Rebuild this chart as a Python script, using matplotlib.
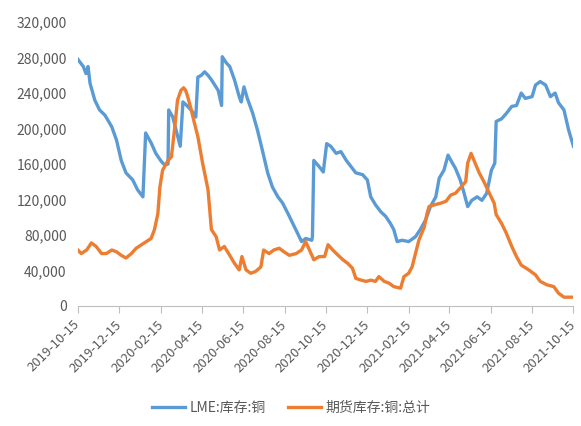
import matplotlib
matplotlib.use("Agg")
import matplotlib.pyplot as plt
import matplotlib.dates as mdates
import matplotlib.ticker as mticker
import pandas as pd

plt.rcParams['font.family'] = ['Noto Sans CJK SC', 'DejaVu Sans']

# LME copper stocks
lme_dates = [
    "2019-10-15", "2019-10-23", "2019-10-27", "2019-10-30", "2019-11-02", "2019-11-09",
    "2019-11-16", "2019-11-24", "2019-12-04", "2019-12-11", "2019-12-18", "2019-12-25",
    "2020-01-04", "2020-01-11", "2020-01-19", "2020-01-23", "2020-01-31", "2020-02-07",
    "2020-02-15", "2020-02-20", "2020-02-25", "2020-02-26", "2020-03-03", "2020-03-09",
    "2020-03-14", "2020-03-18", "2020-03-25", "2020-04-01", "2020-04-06", "2020-04-09",
    "2020-04-14", "2020-04-19", "2020-04-24", "2020-04-29", "2020-05-04", "2020-05-09",
    "2020-05-14", "2020-05-15", "2020-05-21", "2020-05-26", "2020-06-02", "2020-06-09",
    "2020-06-12", "2020-06-16", "2020-06-21", "2020-06-29", "2020-07-06", "2020-07-13",
    "2020-07-21", "2020-07-28", "2020-08-05", "2020-08-12", "2020-08-20", "2020-08-27",
    "2020-09-03", "2020-09-09", "2020-09-15", "2020-09-24", "2020-09-25", "2020-09-27",
    "2020-10-05", "2020-10-11", "2020-10-16", "2020-10-22", "2020-10-30", "2020-11-06",
    "2020-11-14", "2020-11-21", "2020-11-28", "2020-12-08", "2020-12-15", "2020-12-20",
    "2020-12-27", "2021-01-04", "2021-01-11", "2021-01-18", "2021-01-23", "2021-01-28",
    "2021-02-04", "2021-02-14", "2021-02-24", "2021-03-03", "2021-03-11", "2021-03-18",
    "2021-03-26", "2021-03-31", "2021-04-07", "2021-04-13", "2021-04-18", "2021-04-24",
    "2021-05-01", "2021-05-06", "2021-05-12", "2021-05-18", "2021-05-26", "2021-06-02",
    "2021-06-09", "2021-06-16", "2021-06-21", "2021-06-23", "2021-07-01", "2021-07-08",
    "2021-07-16", "2021-07-23", "2021-07-30", "2021-08-05", "2021-08-15", "2021-08-20",
    "2021-08-27", "2021-09-04", "2021-09-11", "2021-09-18", "2021-09-23", "2021-10-01",
    "2021-10-08", "2021-10-15",
]
lme_values = [
    278000, 270000, 262000, 270000, 251000, 232000,
    221000, 215000, 202000, 187000, 164000, 150000,
    142000, 131000, 123000, 195000, 184000, 172000,
    163000, 159000, 160000, 221000, 213000, 195000,
    180000, 230000, 225000, 219000, 213000, 258000,
    260000, 264000, 260000, 255000, 249000, 243000,
    226000, 281000, 274000, 270000, 255000, 236000,
    230000, 247000, 234000, 217000, 198000, 176000,
    150000, 134000, 123000, 116000, 104000, 93000,
    82000, 72500, 76000, 74000, 78000, 164000,
    157000, 151000, 183000, 180000, 172000, 174000,
    164000, 157000, 150000, 148000, 142000, 123000,
    114000, 106000, 101000, 93000, 86000, 72500,
    74000, 72500, 78000, 86000, 97000, 112000,
    123000, 144000, 153000, 170000, 163000, 155000,
    142000, 129000, 112000, 119000, 123000, 119000,
    127000, 153000, 161000, 208000, 211000, 217000,
    225000, 226000, 240000, 234000, 236000, 249000,
    253000, 249000, 236000, 240000, 229000, 221000,
    198000, 180000,
]

# Futures (SHFE) copper stocks, total
fut_dates = [
    "2019-10-15", "2019-10-20", "2019-10-28", "2019-11-04", "2019-11-11", "2019-11-19",
    "2019-11-26", "2019-12-04", "2019-12-11", "2019-12-18", "2019-12-25", "2020-01-02",
    "2020-01-09", "2020-01-17", "2020-01-24", "2020-01-31", "2020-02-05", "2020-02-10",
    "2020-02-13", "2020-02-17", "2020-02-25", "2020-03-01", "2020-03-06", "2020-03-10",
    "2020-03-15", "2020-03-19", "2020-03-22", "2020-03-25", "2020-03-29", "2020-04-04",
    "2020-04-09", "2020-04-16", "2020-04-24", "2020-04-29", "2020-05-06", "2020-05-11",
    "2020-05-18", "2020-05-26", "2020-06-02", "2020-06-09", "2020-06-13", "2020-06-19",
    "2020-06-26", "2020-07-03", "2020-07-11", "2020-07-15", "2020-07-23", "2020-07-30",
    "2020-08-07", "2020-08-14", "2020-08-22", "2020-09-01", "2020-09-09", "2020-09-15",
    "2020-09-23", "2020-09-27", "2020-10-05", "2020-10-13", "2020-10-18", "2020-10-25",
    "2020-11-02", "2020-11-09", "2020-11-16", "2020-11-23", "2020-11-28", "2020-12-06",
    "2020-12-13", "2020-12-20", "2020-12-27", "2021-01-01", "2021-01-09", "2021-01-16",
    "2021-01-23", "2021-02-02", "2021-02-07", "2021-02-14", "2021-02-19", "2021-02-24",
    "2021-03-01", "2021-03-09", "2021-03-13", "2021-03-16", "2021-03-24", "2021-04-03",
    "2021-04-10", "2021-04-17", "2021-04-24", "2021-05-01", "2021-05-09", "2021-05-12",
    "2021-05-17", "2021-05-23", "2021-05-29", "2021-06-05", "2021-06-13", "2021-06-20",
    "2021-06-23", "2021-07-01", "2021-07-08", "2021-07-16", "2021-07-23", "2021-07-30",
    "2021-08-10", "2021-08-20", "2021-08-27", "2021-09-06", "2021-09-16", "2021-09-23",
    "2021-10-01", "2021-10-15",
]
fut_values = [
    63000, 59000, 63000, 71000, 67000, 59000,
    59000, 63000, 61000, 57000, 54000, 59000,
    65000, 69000, 72500, 76000, 86000, 104000,
    134000, 153000, 164000, 168000, 202000, 232000,
    243000, 246000, 243000, 236000, 225000, 206000,
    191000, 161000, 131000, 86000, 78000, 63000,
    67000, 57000, 48000, 40600, 55600, 40600,
    36800, 38700, 44000, 63000, 59000, 63000,
    65000, 61000, 57000, 59000, 63000, 72500,
    59000, 52000, 55600, 55600, 69000, 63000,
    57000, 52000, 48000, 42500, 31000, 29000,
    27600, 29000, 27600, 33000, 27600, 25600,
    21700, 19900, 33000, 36800, 44000, 59000,
    74000, 89000, 104000, 112000, 114000, 116000,
    118000, 125000, 127000, 133000, 140000, 161000,
    172000, 161000, 150000, 140000, 127000, 116000,
    103000, 93000, 82000, 67000, 55600, 46000,
    40600, 35000, 27600, 23700, 21700, 14300,
    9800, 9800,
]

tick_dates = [
    "2019-10-15", "2019-12-15", "2020-02-15", "2020-04-15", "2020-06-15",
    "2020-08-15", "2020-10-15", "2020-12-15", "2021-02-15", "2021-04-15",
    "2021-06-15", "2021-08-15", "2021-10-15",
]
y_ticks = [0, 40000, 80000, 120000, 160000, 200000, 240000, 280000, 320000]

fig = plt.figure(figsize=(5.81, 4.26), dpi=100)
ax = fig.add_axes([0.134, 0.282, 0.853, 0.666])

ax.plot(pd.to_datetime(lme_dates), lme_values, color="#5B9BD5", lw=2.4,
        label="LME:库存:铜", solid_joinstyle="round")
ax.plot(pd.to_datetime(fut_dates), fut_values, color="#ED7D31", lw=2.4,
        label="期货库存:铜:总计", solid_joinstyle="round")

ax.set_xlim(pd.Timestamp(tick_dates[0]), pd.Timestamp(tick_dates[-1]))
ax.set_ylim(0, 320000)
ax.set_yticks(y_ticks)
ax.yaxis.set_major_formatter(mticker.FuncFormatter(lambda v, p: f"{int(v):,}"))
ax.set_xticks(pd.to_datetime(tick_dates))
ax.xaxis.set_major_formatter(mdates.DateFormatter("%Y-%m-%d"))

for s in ["top", "right", "left"]:
    ax.spines[s].set_visible(False)
ax.spines["bottom"].set_color("#BFBFBF")
ax.tick_params(axis="y", length=0, labelsize=10, labelcolor="#595959", pad=8)
ax.tick_params(axis="x", length=5, color="#BFBFBF", labelsize=9.4,
               labelcolor="#595959", pad=7)
plt.setp(ax.get_xticklabels(), rotation=45, ha="right", va="center",
         rotation_mode="anchor")

ax.legend(loc="center", bbox_to_anchor=(0.43, -0.36), ncol=2,
          frameon=False, fontsize=10, handlelength=2.4, handletextpad=0.3,
          columnspacing=1.6, labelcolor="#595959")

fig.savefig("out.png", dpi=100)
